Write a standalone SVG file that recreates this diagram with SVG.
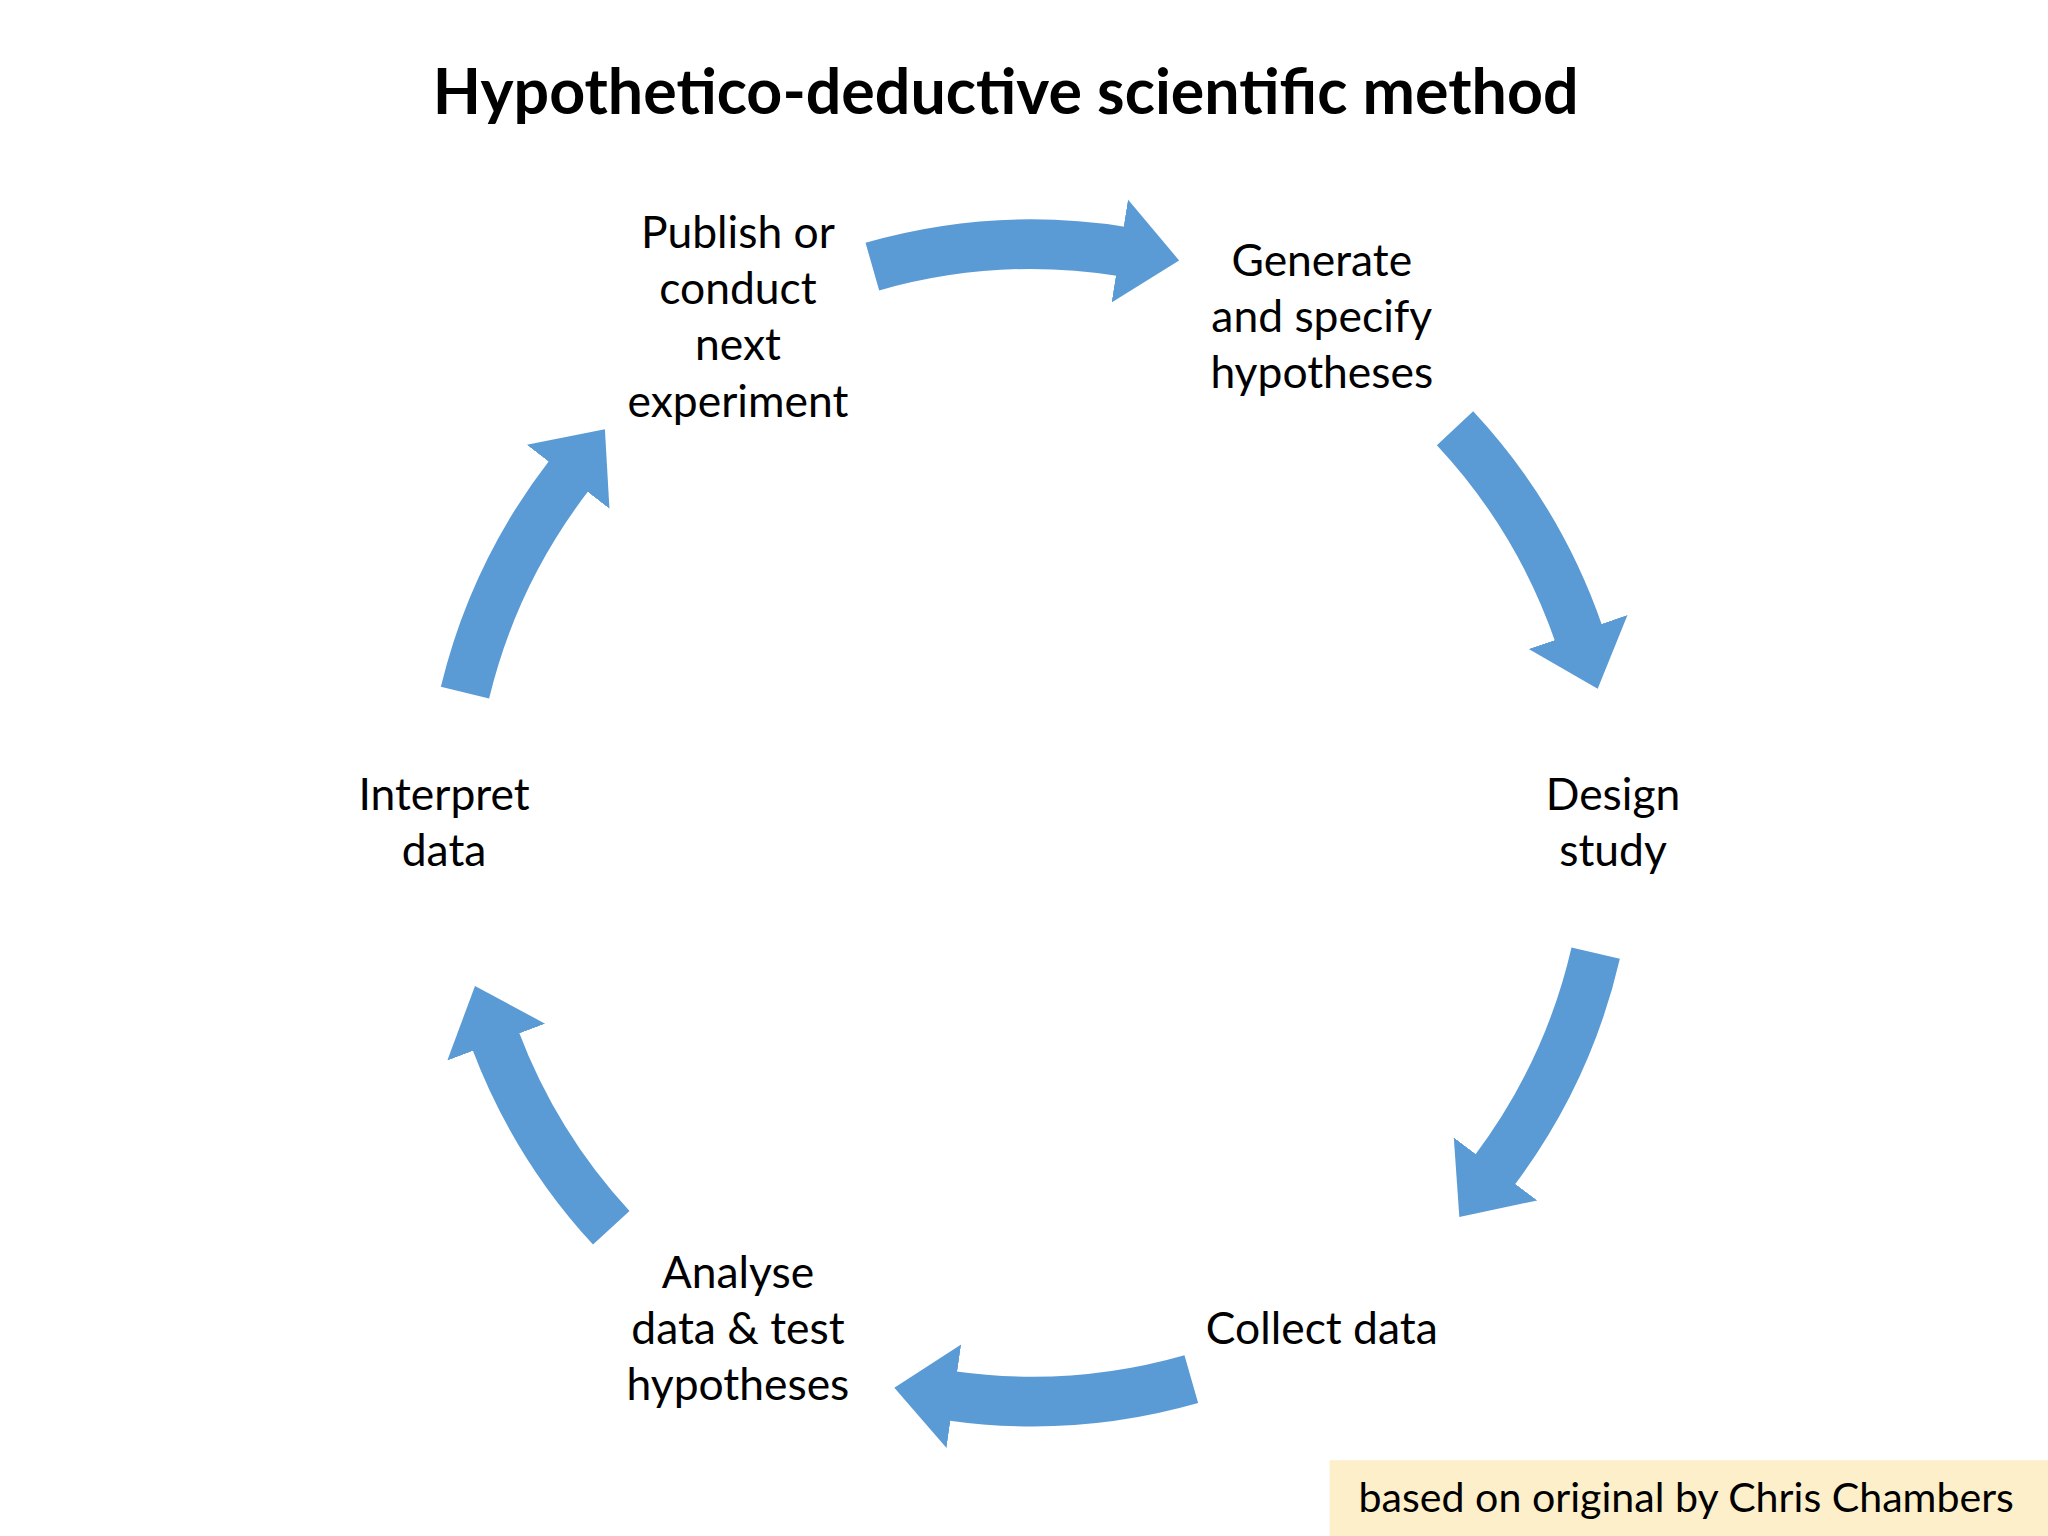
<svg xmlns="http://www.w3.org/2000/svg" width="2048" height="1536" viewBox="0 0 2048 1536">
<defs>
<marker id="head" markerUnits="userSpaceOnUse" markerWidth="60" markerHeight="90" refX="2" refY="40" orient="auto" viewBox="0 0 60 80">
<path d="M0,0 L46,40 L0,80 Z" fill="#5b9bd5"/>
</marker>
<style>
.lbl{font-family:Lato,"Liberation Sans",sans-serif;font-size:34px;fill:#000;text-anchor:middle}
.arr{fill:none;stroke:#5b9bd5;stroke-width:38;marker-end:url(#head)}
</style>
</defs>
<rect width="2048" height="1536" fill="#fff"/>
<g transform="scale(1.30612)">
<text x="770" y="87" style="font-family:Lato,'Liberation Sans',sans-serif;font-weight:bold;font-size:48px;text-anchor:middle">Hypothetico-deductive scientific method</text>
<g id="connectors">
<path class="arr" d="M667.9,204.1 A443,443 0 0 1 859.3,192.5"/>
<path class="arr" d="M1114,327.9 A443,443 0 0 1 1208.9,485.8"/>
<path class="arr" d="M1221.7,729.7 A443,443 0 0 1 1143.8,896.6"/>
<path class="arr" d="M912.1,1055.9 A443,443 0 0 1 728.3,1068.7"/>
<path class="arr" d="M468,940 A443,443 0 0 1 379.2,796"/>
<path class="arr" d="M356,530.3 A443,443 0 0 1 436.2,363.4"/>
</g>
<g id="publish"><text class="lbl" x="565" y="190">Publish or</text><text class="lbl" x="565" y="233">conduct</text><text class="lbl" x="565" y="276">next</text><text class="lbl" x="565" y="319">experiment</text></g>
<g id="generate"><text class="lbl" x="1012" y="211">Generate</text><text class="lbl" x="1012" y="254">and specify</text><text class="lbl" x="1012" y="297">hypotheses</text></g>
<g id="design"><text class="lbl" x="1235" y="620">Design</text><text class="lbl" x="1235" y="663">study</text></g>
<g id="collect"><text class="lbl" x="1012" y="1029">Collect data</text></g>
<g id="analyse"><text class="lbl" x="565" y="986">Analyse</text><text class="lbl" x="565" y="1029">data &amp; test</text><text class="lbl" x="565" y="1072">hypotheses</text></g>
<g id="interpret"><text class="lbl" x="340" y="620">Interpret</text><text class="lbl" x="340" y="663">data</text></g>
<g id="credit"><rect x="1018" y="1118" width="550" height="58" fill="#fcefc9"/><text class="lbl" x="1291" y="1158" style="font-size:31.5px">based on original by Chris Chambers</text></g>
</g>
</svg>
